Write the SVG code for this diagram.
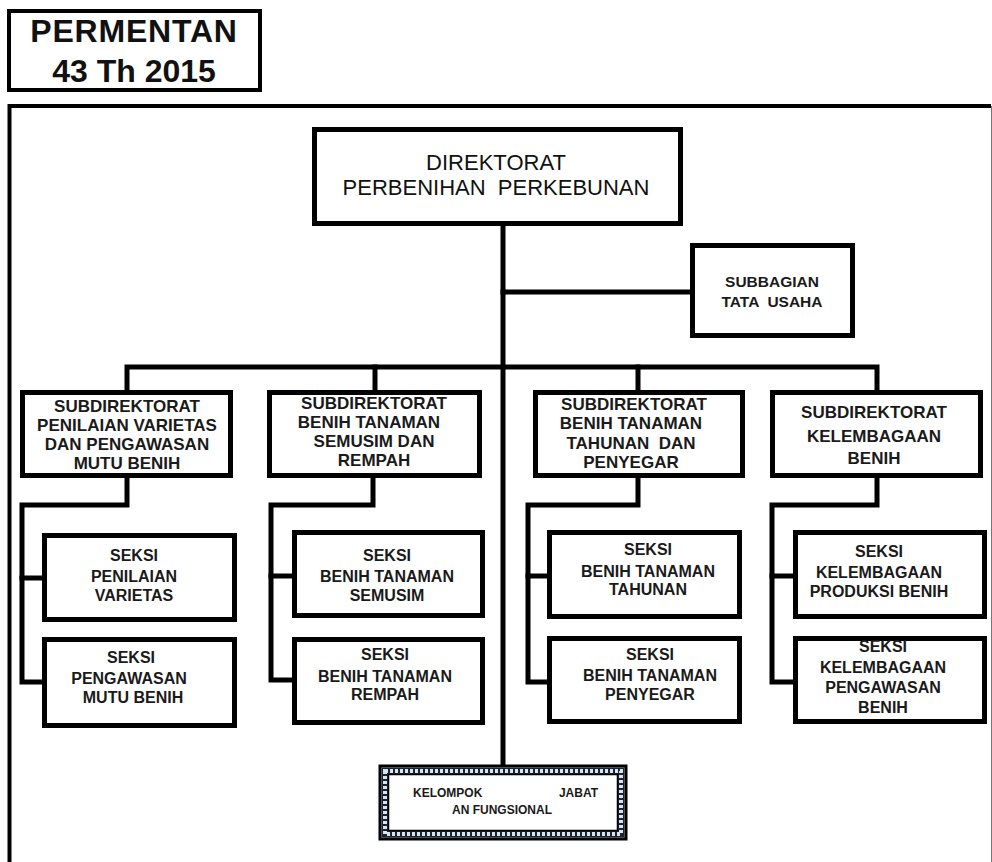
<svg xmlns="http://www.w3.org/2000/svg" width="992" height="862" viewBox="0 0 992 862">
<style>
.box{fill:#fff;stroke:#000;stroke-width:5}
.ln{fill:none;stroke:#000;stroke-width:5;stroke-linejoin:miter;stroke-linecap:square}
text{font-family:"Liberation Sans",Arial,sans-serif;fill:#1a1a1a;text-anchor:middle}
.t1{font-size:22px;fill:#111}
.t2{font-size:15.5px;font-weight:bold}
.t3{font-size:17px;font-weight:bold}
.t4{font-size:16px;font-weight:bold}
.t5{font-size:12px;font-weight:bold}
</style>
<rect width="992" height="862" fill="#fff"/>
<g id="title">
<rect x="9" y="11" width="251" height="79" fill="#fff" stroke="#000" stroke-width="4"/>
<text x="134" y="42" style="font-size:32px;font-weight:bold;letter-spacing:0.8px;fill:#111">PERMENTAN</text>
<text x="134" y="82" style="font-size:32px;font-weight:bold;fill:#111">43 Th 2015</text>
</g>
<g id="frame">
<path d="M9.5 862 V106 H991" fill="none" stroke="#000" stroke-width="4"/>
<line x1="991.5" y1="106" x2="991.5" y2="862" stroke="#777" stroke-width="1"/>
</g>
<g id="connectors">
<path class="ln" d="M503 225 V765"/>
<path class="ln" d="M503 292 H692"/>
<path class="ln" d="M127 392 V367 H877 V392"/>
<path class="ln" d="M375 367 V392"/>
<path class="ln" d="M638 367 V392"/>
<path class="ln" d="M127 478 V505 H22 V682 H44"/>
<path class="ln" d="M22 578 H44"/>
<path class="ln" d="M373 478 V505 H271 V680 H294"/>
<path class="ln" d="M271 576 H294"/>
<path class="ln" d="M638 478 V505 H528 V682 H549"/>
<path class="ln" d="M528 576 H549"/>
<path class="ln" d="M877 478 V505 H772 V682 H795"/>
<path class="ln" d="M772 576 H795"/>
</g>
<g id="direktorat">
<rect class="box" x="314.5" y="129.5" width="366" height="94"/>
<text class="t1" x="496" y="170">DIREKTORAT</text>
<text class="t1" x="496" y="195" xml:space="preserve">PERBENIHAN  PERKEBUNAN</text>
</g>
<g id="subbagian">
<rect class="box" x="692.5" y="245.5" width="160" height="90"/>
<text class="t2" x="772" y="287">SUBBAGIAN</text>
<text class="t2" x="772" y="307" xml:space="preserve">TATA  USAHA</text>
</g>
<g id="subdit1">
<rect class="box" x="22.5" y="392.5" width="208" height="83"/>
<text class="t3" x="127" y="412">SUBDIREKTORAT</text>
<text class="t3" x="127" y="431">PENILAIAN VARIETAS</text>
<text class="t3" x="127" y="450">DAN PENGAWASAN</text>
<text class="t3" x="127" y="469">MUTU BENIH</text>
</g>
<g id="subdit2">
<rect class="box" x="269.5" y="392.5" width="210" height="83"/>
<text class="t3" x="374" y="409">SUBDIREKTORAT</text>
<text class="t3" x="369" y="428">BENIH TANAMAN</text>
<text class="t3" x="374" y="447">SEMUSIM DAN</text>
<text class="t3" x="374" y="466">REMPAH</text>
</g>
<g id="subdit3">
<rect class="box" x="535.5" y="392.5" width="207" height="83"/>
<text class="t3" x="634" y="410">SUBDIREKTORAT</text>
<text class="t3" x="631" y="429">BENIH TANAMAN</text>
<text class="t3" x="631" y="449" xml:space="preserve">TAHUNAN  DAN</text>
<text class="t3" x="631" y="468">PENYEGAR</text>
</g>
<g id="subdit4">
<rect class="box" x="772.5" y="392.5" width="208" height="83"/>
<text class="t3" x="874" y="418">SUBDIREKTORAT</text>
<text class="t3" x="874" y="442">KELEMBAGAAN</text>
<text class="t3" x="874" y="464">BENIH</text>
</g>
<g id="seksi1a">
<rect class="box" x="44.5" y="535.5" width="190" height="84"/>
<text class="t4" x="134" y="561">SEKSI</text>
<text class="t4" x="134" y="582">PENILAIAN</text>
<text class="t4" x="134" y="601">VARIETAS</text>
</g>
<g id="seksi1b">
<rect class="box" x="44.5" y="639.5" width="190" height="86"/>
<text class="t4" x="131" y="663">SEKSI</text>
<text class="t4" x="129" y="684">PENGAWASAN</text>
<text class="t4" x="133" y="703">MUTU BENIH</text>
</g>
<g id="seksi2a">
<rect class="box" x="294.5" y="532.5" width="188" height="83"/>
<text class="t4" x="387" y="561">SEKSI</text>
<text class="t4" x="387" y="582">BENIH TANAMAN</text>
<text class="t4" x="387" y="601">SEMUSIM</text>
</g>
<g id="seksi2b">
<rect class="box" x="294.5" y="639.5" width="188" height="83"/>
<text class="t4" x="385" y="660">SEKSI</text>
<text class="t4" x="385" y="682">BENIH TANAMAN</text>
<text class="t4" x="385" y="700">REMPAH</text>
</g>
<g id="seksi3a">
<rect class="box" x="549.5" y="532.5" width="190" height="84"/>
<text class="t4" x="648" y="555">SEKSI</text>
<text class="t4" x="648" y="577">BENIH TANAMAN</text>
<text class="t4" x="648" y="595">TAHUNAN</text>
</g>
<g id="seksi3b">
<rect class="box" x="549.5" y="638.5" width="190" height="83"/>
<text class="t4" x="650" y="660">SEKSI</text>
<text class="t4" x="650" y="681">BENIH TANAMAN</text>
<text class="t4" x="650" y="700">PENYEGAR</text>
</g>
<g id="seksi4a">
<rect class="box" x="795.5" y="532.5" width="189" height="84"/>
<text class="t4" x="879" y="557">SEKSI</text>
<text class="t4" x="879" y="578">KELEMBAGAAN</text>
<text class="t4" x="879" y="597">PRODUKSI BENIH</text>
</g>
<g id="seksi4b">
<rect class="box" x="795.5" y="638.5" width="189" height="83"/>
<text class="t4" x="883" y="652">SEKSI</text>
<text class="t4" x="883" y="673">KELEMBAGAAN</text>
<text class="t4" x="883" y="693">PENGAWASAN</text>
<text class="t4" x="883" y="713">BENIH</text>
</g>
<g id="kelompok">
<rect x="380" y="766" width="246" height="73" fill="#fff" stroke="#000" stroke-width="3"/>
<rect x="385" y="771" width="236" height="63" fill="none" stroke="#1b2330" stroke-width="7"/>
<rect x="385" y="771" width="236" height="63" fill="none" stroke="#d6e4f0" stroke-width="4" stroke-dasharray="3 2"/>
<rect x="388.5" y="774.5" width="229" height="56" fill="#fff" stroke="#000" stroke-width="1.5"/>
<text class="t5" x="413" y="797" style="text-anchor:start">KELOMPOK</text>
<text class="t5" x="598" y="797" style="text-anchor:end">JABAT</text>
<text class="t5" x="502" y="814">AN FUNGSIONAL</text>
</g>
</svg>
